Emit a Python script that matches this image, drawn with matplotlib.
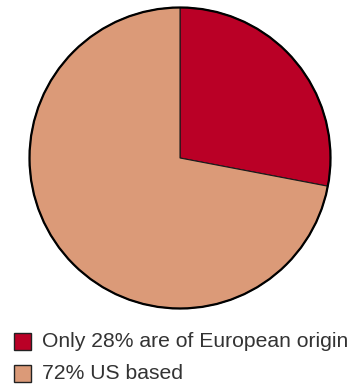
import matplotlib.pyplot as plt
from matplotlib.patches import Rectangle, Circle

labels = ["Only 28% are of European origin", "72% US based"]
shares = [28, 72]
colors = ["#BA0026", "#DB9A78"]

W, H = 354, 389
fig = plt.figure(figsize=(W / 100, H / 100), dpi=100)

# pie axes: centre ~(180, 158) px, radius ~152 px
ax = fig.add_axes([28 / W, (H - 310) / H, 304 / W, 304 / H])
ax.pie(shares, colors=colors, startangle=90, counterclock=False,
       wedgeprops={"edgecolor": "#1a1a1a", "linewidth": 0.8})
ax.add_patch(Circle((0, 0), 1, fill=False, edgecolor="black", linewidth=1.6))
ax.set_xlim(-1.01, 1.01)
ax.set_ylim(-1.01, 1.01)
ax.set_aspect("equal")
ax.axis("off")

# legend drawn by hand
for i, (lab, col) in enumerate(zip(labels, colors)):
    y_top = 333 + i * 32
    fig.patches.append(Rectangle((14 / W, (H - y_top - 17) / H), 17 / W, 17 / H,
                                 transform=fig.transFigure, facecolor=col,
                                 edgecolor="#222222", linewidth=1.0))
    fig.text(42 / W, (H - y_top - 8.5) / H, lab, fontsize=15.2,
             family="Liberation Sans", color="#333333", va="center", ha="left")

fig.savefig("out.png", dpi=100)
